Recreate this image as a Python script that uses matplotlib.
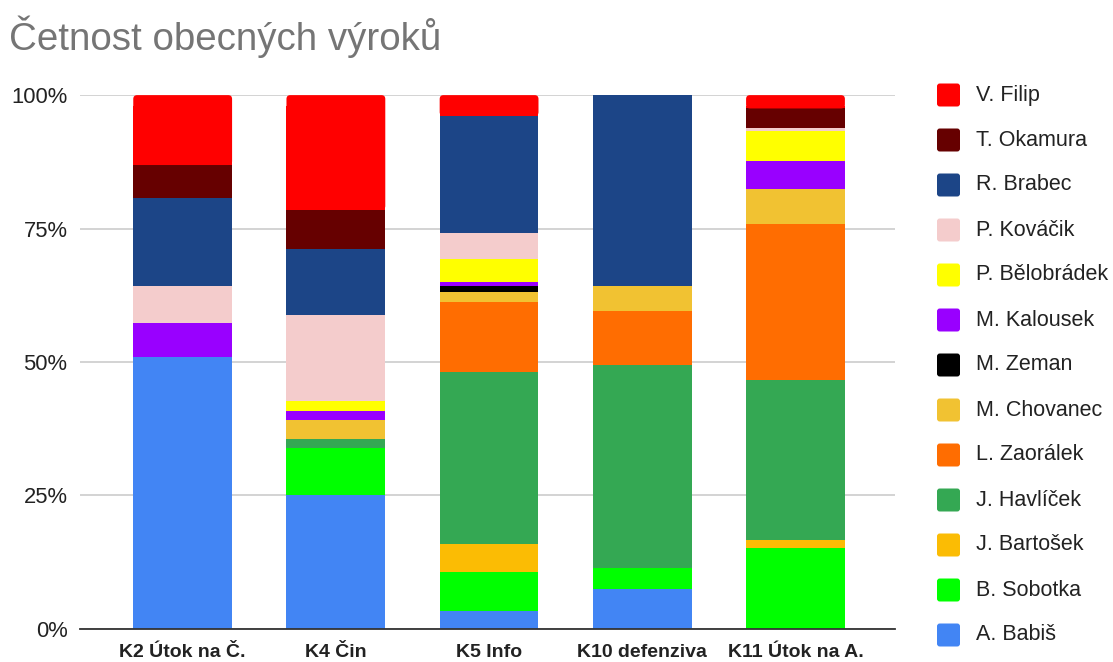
import matplotlib.pyplot as plt
from matplotlib.patches import Rectangle, FancyBboxPatch

plt.rcParams['font.family'] = ['Liberation Sans', 'DejaVu Sans']

categories = ['K2 Útok na Č.', 'K4 Čin', 'K5 Info', 'K10 defenziva', 'K11 Útok na A.']

# series from bottom to top, values in % of each bar
names = ['A. Babiš', 'B. Sobotka', 'J. Bartošek', 'J. Havlíček', 'L. Zaorálek',
         'M. Chovanec', 'M. Zeman', 'M. Kalousek', 'P. Bělobrádek', 'P. Kováčik',
         'R. Brabec', 'T. Okamura', 'V. Filip']
colors = ['#4285f4', '#00ff00', '#fbbc04', '#34a853', '#ff6d01',
          '#f1c232', '#000000', '#9900ff', '#ffff00', '#f4cccc',
          '#1c4587', '#660000', '#ff0000']

babis      = [51.0, 25.0, 3.3, 7.4, 0.0]
sobotka    = [0.0, 8.8, 7.4, 4.0, 15.2]
bartosek   = [0.0, 0.0, 5.1, 0.0, 1.4]
havlicek   = [0.0, 1.8, 32.3, 38.1, 30.0]
zaoralek   = [0.0, 0.0, 13.2, 10.0, 29.3]
chovanec   = [0.0, 3.6, 1.8, 4.7, 6.6]
zeman      = [0.0, 0.0, 1.1, 0.0, 0.0]
kalousek   = [6.2, 1.6, 0.8, 0.0, 5.2]
belobradek = [0.0, 1.8, 4.3, 0.0, 5.6]
kovacik    = [7.0, 16.1, 4.8, 0.0, 0.6]
brabec     = [16.5, 12.4, 22.0, 35.8, 0.0]
okamura    = [6.2, 7.4, 0.0, 0.0, 3.6]
filip      = [13.1, 21.5, 3.9, 0.0, 2.5]

series = [babis, sobotka, bartosek, havlicek, zaoralek, chovanec, zeman,
          kalousek, belobradek, kovacik, brabec, okamura, filip]

fig = plt.figure(figsize=(11.13, 6.62), dpi=100)
ax = fig.add_axes([0.0719, 0.0503, 0.7323, 0.806])
ax.set_xlim(-0.67, 4.65)
ax.set_ylim(0, 100)

BW = 0.645
# normalise each bar to 100 %
totals = [sum(s[i] for s in series) for i in range(len(categories))]
x = list(range(len(categories)))
bottom = [0.0] * len(categories)
for j, (vals, col) in enumerate(zip(series, colors)):
    pct = [v / t * 100 for v, t in zip(vals, totals)]
    if j < len(series) - 1:
        ax.bar(x, pct, bottom=bottom, width=BW, color=col, linewidth=0, zorder=3)
    else:
        # last series gets rounded top corners like the original
        ax.bar(x, [max(p - 2, 0) for p in pct], bottom=bottom, width=BW,
               color=col, linewidth=0, zorder=3)
        for xi, b, p in zip(x, bottom, pct):
            if p <= 0:
                continue
            ax.add_patch(FancyBboxPatch((xi - BW / 2, b), BW, p,
                                        boxstyle='round,pad=0,rounding_size=0.025',
                                        mutation_aspect=28.7, facecolor=col,
                                        edgecolor='none', zorder=3))
    bottom = [b + p for b, p in zip(bottom, pct)]

ax.set_yticks([0, 25, 50, 75, 100])
ax.set_yticklabels(['0%', '25%', '50%', '75%', '100%'], fontsize=15.8, color='#222222')
ax.set_xticks(x)
ax.set_xticklabels(categories, fontsize=14, fontweight='bold', color='#222222')
ax.tick_params(length=0)
ax.tick_params(axis='y', pad=9)
ax.tick_params(axis='x', pad=11)
ax.grid(axis='y', color='#cccccc', linewidth=1.2, zorder=0)
for sp in ['top', 'right', 'left']:
    ax.spines[sp].set_visible(False)
ax.spines['bottom'].set_color('#333333')
ax.spines['bottom'].set_linewidth(1.3)
ax.spines['bottom'].set_zorder(4)

fig.text(0.008, 0.945, 'Četnost obecných výroků', fontsize=27.7, color='#757575',
         va='center', ha='left')

# legend, top entry = last series
W, H = 1113, 662
for k, (nm, col) in enumerate(zip(reversed(names), reversed(colors))):
    yc = 95 + 45 * k
    fig.patches.append(FancyBboxPatch((937 / W, 1 - (yc + 11.5) / H), 23 / W, 23 / H,
                                      boxstyle='round,pad=0,rounding_size=0.0025',
                                      mutation_aspect=W / H,
                                      transform=fig.transFigure, facecolor=col,
                                      edgecolor='none'))
    fig.text(976 / W, 1 - yc / H, nm, fontsize=15.5, color='#222222',
             va='center', ha='left')

fig.savefig('out.png', dpi=100)
